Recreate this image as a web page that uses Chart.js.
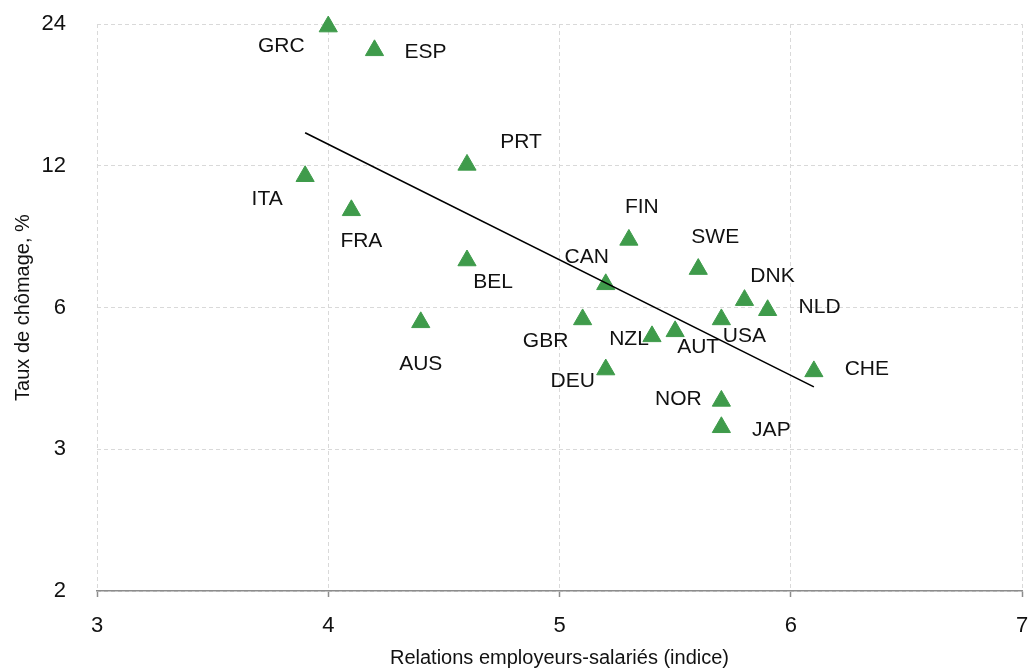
<!DOCTYPE html>
<html lang="fr">
<head>
<meta charset="utf-8">
<title>Relations employeurs-salariés et chômage</title>
<script src="https://cdn.jsdelivr.net/npm/chart.js@4.4.1/dist/chart.umd.min.js"></script>
<style>
  html, body { margin: 0; padding: 0; background: #fff; }
  #wrap { width: 1029px; height: 671px; }
</style>
</head>
<body>
<div id="wrap"><canvas id="scatterChart" width="1029" height="671"></canvas></div>
<script>
// ===== データ =====
const COUNTRIES = ['GRC', 'ESP', 'PRT', 'ITA', 'FRA', 'BEL', 'FIN', 'CAN', 'SWE', 'DNK',
                   'NLD', 'USA', 'AUS', 'GBR', 'NZL', 'AUT', 'DEU', 'CHE', 'NOR', 'JAP'];
const RELATIONS = [4.0, 4.2, 4.6, 3.9, 4.1, 4.6, 5.3, 5.2, 5.6, 5.8,
                   5.9, 5.7, 4.4, 5.1, 5.4, 5.5, 5.2, 6.1, 5.7, 5.7];
const CHOMAGE   = [23.7, 21.1, 12.05, 11.4, 9.65, 7.55, 8.35, 6.72, 7.24, 6.22,
                   5.92, 5.66, 5.58, 5.66, 5.21, 5.34, 4.43, 4.39, 3.8, 3.34];

// droite de tendance (extrémités)
const TREND_X = [3.9, 6.1];
const TREND_Y = [14.1, 4.07];

const X_MIN = 3, X_MAX = 7;
const Y_TICK_VALUES = [1.5, 3, 6, 12, 24];
const Y_TICK_LABELS = ['2', '3', '6', '12', '24'];

// ===== 表示設定 =====
const GREEN = '#3f9b4b';
const GRID = '#d9d9d9';
const AXIS = '#8c8c8c';
const FONT = "'Liberation Sans', Arial, sans-serif";

// position des étiquettes par rapport au marqueur (px)
const LABEL_OFFSETS = [
  [-47, 20], [51, 2], [54, -23], [-38, 23], [10, 31], [26, 22], [13, -33], [-19, -27], [17, -32], [28, -24],
  [52, -3], [23, 17], [0, 42], [-37, 22], [-23, 3], [23, 16], [-33, 12], [53, -2], [-43, -2], [50, 3]
];

const countryLabels = {
  id: 'countryLabels',
  beforeDatasetsDraw(chart) {
    const meta = chart.getDatasetMeta(1);
    const ctx = chart.ctx;
    ctx.save();
    ctx.font = '21px ' + FONT;
    ctx.fillStyle = '#111';
    ctx.textAlign = 'center';
    ctx.textBaseline = 'middle';
    meta.data.forEach((pt, i) => {
      const [dx, dy] = LABEL_OFFSETS[i];
      ctx.fillText(COUNTRIES[i], pt.x + dx, pt.y + dy);
    });
    ctx.restore();
  }
};

// les étiquettes de graduation ne doivent pas déplacer la zone de tracé
function noOverhang(s) {
  s.paddingTop = 0;
  s.paddingBottom = 0;
  s.paddingLeft = 0;
  s.paddingRight = 0;
}

function initScatter() {
  const ctx = document.getElementById('scatterChart');
  new Chart(ctx, {
    type: 'scatter',
    data: {
      datasets: [
        {
          type: 'line',
          data: TREND_X.map((x, i) => ({ x, y: TREND_Y[i] })),
          borderColor: '#000',
          borderWidth: 1.6,
          pointRadius: 0,
          fill: false,
          order: 0
        },
        {
          data: RELATIONS.map((x, i) => ({ x, y: CHOMAGE[i] })),
          pointStyle: 'triangle',
          pointRadius: 10.5,
          pointHoverRadius: 10.5,
          backgroundColor: GREEN,
          borderColor: GREEN,
          borderWidth: 1,
          clip: false,
          order: 1
        }
      ]
    },
    options: {
      responsive: false,
      animation: false,
      devicePixelRatio: 1,
      layout: { autoPadding: false, padding: { top: 24, right: 7, bottom: 0, left: 0 } },
      plugins: { legend: { display: false }, tooltip: { enabled: false } },
      scales: {
        x: {
          type: 'linear',
          min: X_MIN,
          max: X_MAX,
          afterFit: s => { s.height = 80; noOverhang(s); },
          ticks: { stepSize: 1, color: '#111', padding: 16, font: { family: FONT, size: 22 } },
          grid: { color: GRID, tickColor: AXIS, tickLength: 6, tickWidth: 1.5, tickBorderDash: [] },
          border: { color: AXIS, width: 1.5, dash: [4, 3] },
          title: {
            display: true,
            text: 'Relations employeurs-salariés (indice)',
            color: '#111',
            padding: { top: 0, bottom: 1 },
            font: { family: FONT, size: 20 }
          }
        },
        y: {
          type: 'logarithmic',
          min: Y_TICK_VALUES[0],
          max: Y_TICK_VALUES[Y_TICK_VALUES.length - 1],
          afterFit: s => { s.width = 97; noOverhang(s); },
          afterBuildTicks: s => { s.ticks = Y_TICK_VALUES.map(v => ({ value: v })); },
          ticks: {
            color: '#111',
            padding: 31,
            font: { family: FONT, size: 22 },
            callback: (v, i) => Y_TICK_LABELS[i]
          },
          grid: { color: GRID, drawTicks: false },
          border: { display: false, dash: [4, 3] },
          title: {
            display: true,
            text: 'Taux de chômage, %',
            color: '#111',
            padding: { top: 11, bottom: 0 },
            font: { family: FONT, size: 20 }
          }
        }
      }
    },
    plugins: [countryLabels]
  });
}

document.addEventListener('DOMContentLoaded', initScatter);
</script>
</body>
</html>
